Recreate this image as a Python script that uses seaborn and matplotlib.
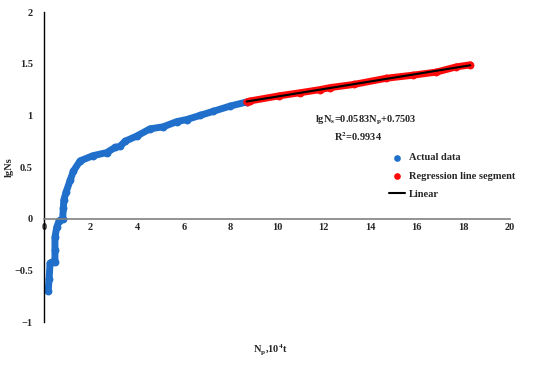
import numpy as np
import pandas as pd
import matplotlib
matplotlib.use("Agg")
import matplotlib.pyplot as plt
import seaborn as sns

# values
actual_x = [0.18, 0.22, 0.26, 0.35, 0.47, 0.47, 0.47, 0.55, 0.65, 0.80, 0.83, 0.85, 0.95,
            1.12, 1.26, 1.55, 2.1, 2.69, 3.05, 3.26, 3.48, 3.98, 4.55, 5.12, 5.7, 6.12,
            6.7, 7.27, 7.98, 8.7]
actual_y = [-0.70, -0.58, -0.43, -0.42, -0.42, -0.30, -0.18, -0.08, -0.02, 0.0, 0.10, 0.18, 0.26,
            0.37, 0.46, 0.56, 0.61, 0.64, 0.69, 0.70, 0.75, 0.80, 0.87, 0.89, 0.94, 0.96,
            1.00, 1.04, 1.09, 1.13]
reg_x = [8.7, 8.84, 10.1, 11.0, 11.85, 12.3, 13.3, 14.7, 15.85, 16.85, 17.7, 18.3]
reg_y = [1.13, 1.14, 1.19, 1.22, 1.25, 1.27, 1.30, 1.36, 1.39, 1.42, 1.47, 1.49]
x_ticks = [0, 2, 4, 6, 8, 10, 12, 14, 16, 18, 20]
y_ticks = [-1, -0.5, 0, 0.5, 1, 1.5, 2]

actual = pd.DataFrame({"x": actual_x, "y": actual_y})
reg = pd.DataFrame({"x": reg_x, "y": reg_y})

sns.set_style("white")
plt.rcParams["font.family"] = ["Liberation Serif", "DejaVu Serif"]
plt.rcParams["font.weight"] = "bold"
plt.rcParams["mathtext.fontset"] = "stix"

blue = "#1F6FCB"
red = "#FF0A0A"
W, H = 550, 368

fig = plt.figure(figsize=(5.5, 3.68), dpi=100)
ax = fig.add_axes([0.08, 0.125, 0.847, 0.842])

# thick band of points
sns.lineplot(data=actual, x="x", y="y", ax=ax, color=blue, lw=5, sort=False,
             estimator=None, label="_nolegend_")
sns.scatterplot(data=actual, x="x", y="y", ax=ax, color=blue, s=32, linewidth=0,
                label="Actual data")
sns.lineplot(data=reg, x="x", y="y", ax=ax, color=red, lw=5, sort=False,
             estimator=None, label="_nolegend_")
sns.scatterplot(data=reg, x="x", y="y", ax=ax, color=red, s=32, linewidth=0,
                label="Regression line segment")
sns.regplot(data=reg, x="x", y="y", ax=ax, scatter=False, ci=None, color="black",
            line_kws={"lw": 1.5}, label="Linear")

ax.set_xlim(0, 20)
ax.set_ylim(-1, 2)
ax.set_xticks(x_ticks)
ax.set_xticklabels([str(t) for t in x_ticks])
ax.set_yticks(y_ticks)
ax.set_yticklabels(["\u22121", "\u22120.5", "0", "0.5", "1", "1.5", "2"])
ax.tick_params(axis="both", length=0, labelsize=7.5)
ax.tick_params(axis="y", pad=8)
ax.tick_params(axis="x", pad=3)

ax.spines["top"].set_visible(False)
ax.spines["right"].set_visible(False)
ax.spines["bottom"].set_position(("data", 0))
ax.spines["bottom"].set_color("#808080")
ax.spines["bottom"].set_linewidth(1.2)
ax.spines["left"].set_color("black")
ax.spines["left"].set_linewidth(1.0)

ax.set_xlabel("")
ax.set_ylabel("lgNs", fontsize=7.5, fontweight="bold")
ax.yaxis.set_label_coords(-0.064, 0.5)
ax.text(0.485, -0.09, r"N$_\mathbf{p}$,10$^\mathbf{4}$t", transform=ax.transAxes,
        ha="center", va="center", fontsize=7.5, fontweight="bold")

fig.text(366 / W, 1 - 120 / H, r"lgN$_\mathbf{s}$=0.0583N$_\mathbf{p}$+0.7503",
         ha="center", va="center", fontsize=7.5, fontweight="bold")
fig.text(358 / W, 1 - 137 / H, r"R$^\mathbf{2}$=0.9934",
         ha="center", va="center", fontsize=7.5, fontweight="bold")

handles, labels = ax.get_legend_handles_labels()
keep = [(h, l) for h, l in zip(handles, labels) if l in ("Actual data", "Regression line segment", "Linear")]
leg = ax.legend([h for h, l in keep], [l for h, l in keep], loc="upper left",
                bbox_to_anchor=(0.72, 0.575), frameon=False, fontsize=7.5,
                handlelength=1.6, handletextpad=0.3, labelspacing=0.85, markerscale=0.85)
for t in leg.get_texts():
    t.set_fontweight("bold")

fig.savefig("out.png", dpi=100)
